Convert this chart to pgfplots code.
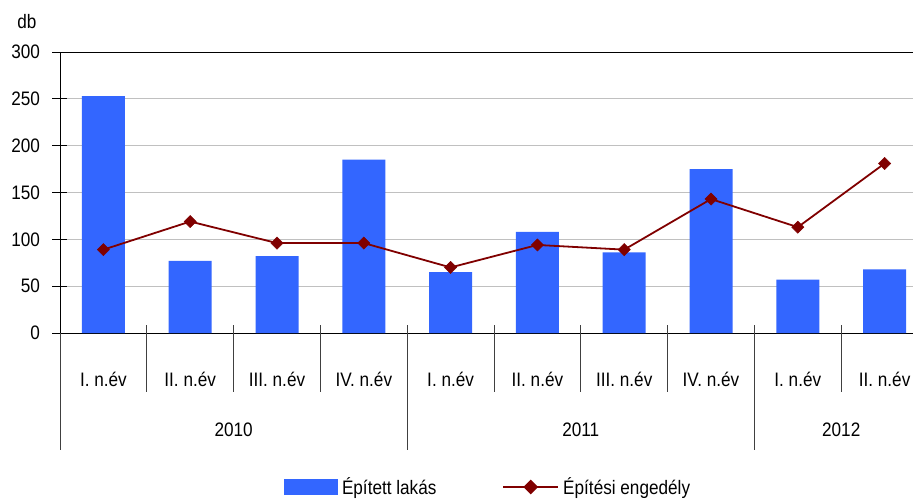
\documentclass[border=0pt]{standalone}
\usepackage{pgfplots}
\pgfplotsset{compat=1.18}
\usepackage{fontspec}
\setmainfont{Liberation Sans}[FakeStretch=0.88]
\definecolor{barblue}{HTML}{3366FF}
\definecolor{linered}{HTML}{800000}
\definecolor{gridgray}{HTML}{C0C0C0}
\definecolor{sepgray}{HTML}{404040}
\begin{document}
\begin{tikzpicture}[font=\fontsize{19.5}{23}\selectfont]
\useasboundingbox (-60pt,-166pt) rectangle (853pt,333pt);
\begin{axis}[
  scale only axis, width=853pt, height=281pt,
  xmin=-0.5, xmax=9.327, ymin=0, ymax=300,
  axis x line*=bottom, axis y line*=left,
  axis line style={black, line width=0.8pt, -},
  ytick={0,50,...,250}, ymajorgrids, grid style={gridgray, line width=0.8pt},
  extra y ticks={300}, extra y tick style={grid style={black, line width=0.8pt}},
  tick align=center, major tick length=15pt, tick style={black, line width=0.8pt},
  /pgf/number format/assume math mode=true,
  yticklabel style={anchor=east, xshift=-9pt},
  xtick={0,...,9},
  xticklabels={I. n.év, II. n.év, III. n.év, IV. n.év, I. n.év, II. n.év, III. n.év, IV. n.év, I. n.év, II. n.év},
  xtick style={draw=none},
  xticklabel style={anchor=center, yshift=-39pt},
  clip=false,
  legend style={at={(rel axis cs:0.503,0)}, anchor=center, yshift=-154pt, draw=none, fill=none,
    legend columns=2, /tikz/every even column/.append style={column sep=62pt},
    nodes={inner xsep=4pt}},
]
\addplot[ybar, bar width=43pt, fill=barblue, draw=none,
  legend image code/.code={\fill[barblue] (0pt,-8pt) rectangle (54pt,8pt);}]
  coordinates {(0,253) (1,77) (2,82) (3,185) (4,65) (5,108) (6,86) (7,175) (8,57) (9,68)};
\addlegendentry{Épített lakás}
\addplot[linered, line width=1.8pt, mark=square*, mark size=4.3pt, mark options={rotate=45, fill=linered, line width=0.5pt},
  legend image code/.code={\draw[linered, line width=1.8pt] (0pt,0pt) -- (55pt,0pt);
    \fill[linered, rotate around={45:(27.5pt,0pt)}] (23.2pt,-4.3pt) rectangle (31.8pt,4.3pt);}]
  coordinates {(0,89) (1,119) (2,96) (3,96) (4,70) (5,94) (6,89) (7,143) (8,113) (9,181)};
\addlegendentry{Építési engedély}
\pgfplotsinvokeforeach{0.5,1.5,2.5,4.5,5.5,6.5,8.5}{
  \draw[sepgray, line width=0.8pt] ([yshift=8pt]axis cs:#1,0) -- ([yshift=-59pt]axis cs:#1,0);
}
\pgfplotsinvokeforeach{3.5,7.5}{
  \draw[sepgray, line width=0.8pt] ([yshift=8pt]axis cs:#1,0) -- ([yshift=-117pt]axis cs:#1,0);
}
\draw[sepgray, line width=0.8pt] (axis cs:-0.5,0) -- ([yshift=-117pt]axis cs:-0.5,0);
\node at ([yshift=-97pt]axis cs:1.5,0) {2010};
\node at ([yshift=-97pt]axis cs:5.5,0) {2011};
\node at ([yshift=-97pt]axis cs:8.5,0) {2012};
\node at ([xshift=-33pt, yshift=30pt]rel axis cs:0,1) {db};
\end{axis}
\end{tikzpicture}
\end{document}
